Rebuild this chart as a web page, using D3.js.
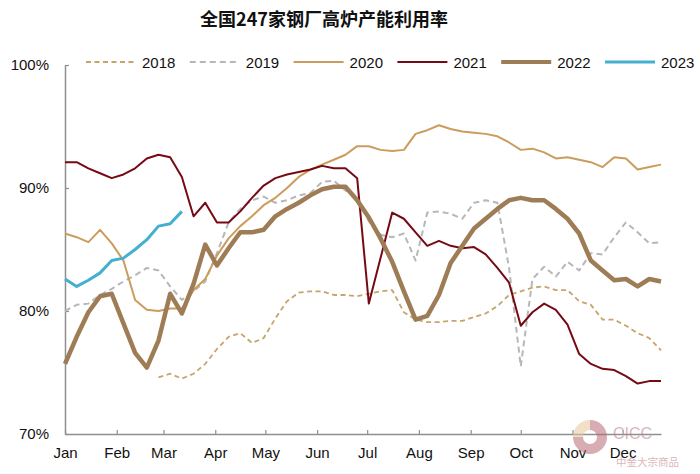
<!DOCTYPE html>
<html>
<head>
<meta charset="utf-8">
<script src="https://cdn.jsdelivr.net/npm/d3@7"></script>
<style>
  html, body { margin: 0; padding: 0; background: #fff; }
  svg { display: block; font-family: "Liberation Sans", Arial, sans-serif; }
</style>
</head>
<body>
<svg id="chart" width="700" height="474"></svg>
<script>
// ---------- data ----------
const title = "全国247家钢厂高炉产能利用率";
const seriesNames = ["2018", "2019", "2020", "2021", "2022", "2023"];
const monthLabels = ["Jan","Feb","Mar","Apr","May","Jun","Jul","Aug","Sep","Oct","Nov","Dec"];
const monthStartDays = [0,31,59,90,120,151,181,212,243,273,304,334];
const yTicks = [70, 80, 90, 100];

// weekly values (%), index = week of year
const v2018 = [null,null,null,null,null,null,null,null,
  74.6,74.9,74.5,74.9,75.7,76.9,77.9,78.2,77.4,77.8,79.4,80.8,81.5,81.6,81.6,81.3,81.3,81.2,81.4,
  81.6,81.7,79.9,79.3,79.1,79.1,79.2,79.2,79.5,79.8,80.4,81.3,81.6,81.9,82.0,81.7,81.7,80.8,80.5,
  79.3,79.3,78.8,78.2,77.8,76.8];
const v2019 = [80.0,80.5,80.6,81.3,81.8,82.4,82.9,83.5,83.3,82.0,80.9,81.6,82.4,84.7,87.2,88.3,
  89.0,89.3,88.8,89.0,89.4,89.6,90.5,90.6,89.8,89.1,87.3,86.2,86.0,86.3,84.1,88.0,88.1,87.9,87.5,
  88.8,89.0,88.8,83.5,75.5,82.6,83.6,82.8,84.0,83.3,84.7,84.6,86.0,87.2,86.4,85.5,85.6];
const v2020 = [86.3,86.0,85.6,86.6,85.5,84.1,80.9,80.1,80.0,80.2,80.2,81.7,82.6,84.5,85.9,86.9,
  87.7,88.6,89.2,90.0,90.9,91.5,91.9,92.3,92.7,93.4,93.4,93.1,93.0,93.1,94.4,94.7,95.1,94.8,94.6,
  94.5,94.4,94.2,93.7,93.1,93.2,92.9,92.4,92.5,92.3,92.1,91.7,92.5,92.4,91.5,91.7,91.9];
const v2021 = [92.1,92.1,91.6,91.2,90.8,91.1,91.6,92.4,92.7,92.5,90.9,87.7,88.8,87.2,87.2,88.1,
  89.2,90.2,90.8,91.1,91.3,91.5,91.8,91.6,91.6,90.8,80.6,84.3,88.0,87.5,86.4,85.3,85.7,85.3,85.1,
  85.2,84.6,83.5,82.3,78.8,79.9,80.6,80.1,78.9,76.5,75.7,75.3,75.2,74.7,74.1,74.3,74.3];
const v2022 = [75.7,77.9,79.9,81.2,81.4,79.0,76.6,75.4,77.6,81.4,79.8,82.2,85.4,83.7,85.1,86.4,
  86.4,86.6,87.7,88.3,88.8,89.4,89.9,90.1,90.1,89.0,87.6,85.9,84.0,81.6,79.3,79.6,81.3,83.9,85.3,
  86.7,87.5,88.3,89.0,89.2,89.0,89.0,88.3,87.5,86.3,84.1,83.3,82.5,82.6,82.0,82.6,82.4];
const v2023 = [82.6,82.0,82.5,83.1,84.1,84.3,85.0,85.8,86.9,87.1,88.1];

// ---------- styles ----------
const styles = {
  "2018": {color: "#C6A56C", width: 1.8, dash: "5,3.5"},
  "2019": {color: "#B7B7B7", width: 2,   dash: "6,4"},
  "2020": {color: "#CB9C5C", width: 2,   dash: null},
  "2021": {color: "#760A14", width: 2,   dash: null},
  "2022": {color: "#9E7C56", width: 4.5, dash: null},
  "2023": {color: "#45AFD0", width: 3,   dash: null}
};
const seriesValues = [v2018, v2019, v2020, v2021, v2022, v2023];
const series = seriesNames.map((n, k) => ({name: n, values: seriesValues[k]}));

// ---------- layout ----------
const svg = d3.select("#chart");
const x = d3.scaleLinear().domain([0, 357]).range([65, 661]);
const y = d3.scaleLinear().domain([70, 100]).range([434, 65]);
const axisColor = "#8F8F8F";

svg.append("text")
  .attr("x", 324).attr("y", 26)
  .attr("text-anchor", "middle")
  .attr("font-family", "'Noto Sans CJK SC', sans-serif")
  .attr("font-weight", "bold")
  .attr("font-size", 18)
  .attr("fill", "#111")
  .text(title);

// axes
const yAxis = d3.axisLeft(y).tickValues(yTicks).tickFormat(d => d + "%")
  .tickSizeInner(-4).tickSizeOuter(0).tickPadding(16);
const gy = svg.append("g").attr("transform", "translate(65,0)").call(yAxis);
gy.selectAll("text").attr("font-size", 15).attr("fill", "#111")
  .attr("font-family", "'Liberation Sans', Arial, sans-serif");

const xAxis = d3.axisBottom(x).tickValues(monthStartDays)
  .tickFormat((d, i) => monthLabels[i]).tickSizeInner(-4).tickSizeOuter(0).tickPadding(13);
const gx = svg.append("g").attr("transform", "translate(0,434)").call(xAxis);
gx.selectAll("text").attr("font-size", 15).attr("fill", "#111")
  .attr("font-family", "'Liberation Sans', Arial, sans-serif");

[gx, gy].forEach(g => {
  g.select(".domain").attr("stroke", axisColor).attr("stroke-width", 1.5);
  g.selectAll(".tick line").attr("stroke", axisColor).attr("stroke-width", 1.2);
});

// watermark
const wm = svg.append("g").attr("opacity", 0.55);
const arc = d3.arc().innerRadius(7).outerRadius(17);
const pie = d3.pie().sort(null)([3, 1]);
wm.append("g").attr("transform", "translate(590,437)")
  .selectAll("path").data(pie).join("path")
  .attr("d", arc).attr("fill", (d, i) => i === 0 ? "#B86A74" : "#E6C79A");
wm.append("text").attr("x", 613).attr("y", 439).attr("font-size", 16)
  .attr("fill", "#C07A84").attr("font-family", "'Liberation Sans', Arial, sans-serif").text("CICC");
wm.append("text").attr("x", 616).attr("y", 466).attr("font-size", 10.5)
  .attr("fill", "#C07A84").attr("font-family", "'Noto Sans CJK SC', sans-serif").text("中金大宗商品");

// lines
const line = d3.line()
  .defined(d => d != null)
  .x((d, i) => x(i * 7))
  .y(d => y(d));

svg.append("g").selectAll("path").data(series).join("path")
  .attr("fill", "none")
  .attr("stroke", d => styles[d.name].color)
  .attr("stroke-width", d => styles[d.name].width)
  .attr("stroke-dasharray", d => styles[d.name].dash)
  .attr("stroke-linejoin", "round")
  .attr("d", d => line(d.values));

// legend
const legend = svg.append("g").attr("transform", "translate(86,62)");
const item = legend.selectAll("g").data(seriesNames).join("g")
  .attr("transform", (d, i) => `translate(${i * 103.8},0)`);
item.append("line").attr("x1", 0).attr("x2", 50).attr("y1", 0).attr("y2", 0)
  .attr("stroke", d => styles[d].color)
  .attr("stroke-width", d => Math.min(styles[d].width, 4))
  .attr("stroke-dasharray", d => styles[d].dash);
item.append("text").attr("x", 56).attr("y", 5.5).attr("font-size", 15).attr("fill", "#111")
  .text(d => d);
</script>
</body>
</html>
